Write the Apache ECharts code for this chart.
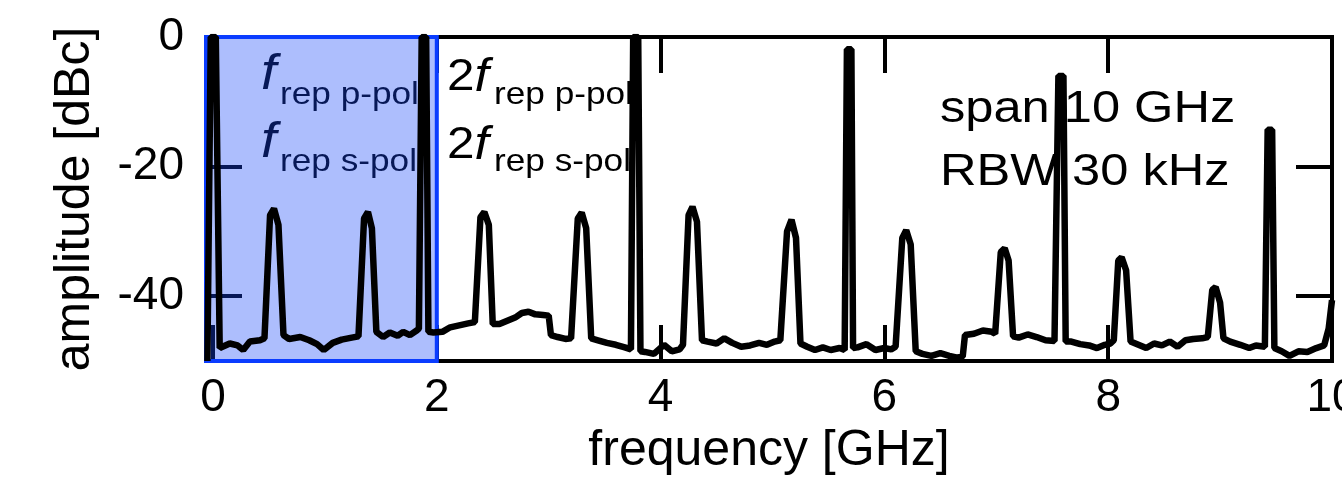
<!DOCTYPE html>
<html>
<head>
<meta charset="utf-8">
<script src="https://cdn.jsdelivr.net/npm/echarts@6/dist/echarts.min.js"></script>
<style>
html, body { margin: 0; padding: 0; background: #fff; }
#chart { width: 1342px; height: 495px; }
</style>
</head>
<body>
<div id="chart"></div>
<script>
// spectrum trace (GHz, dBc)
const freqGHz = [
  -0.05, -0.02, 0.025, 0.06, 0.15, 0.22, 0.27, 0.33, 0.42, 0.46, 0.51, 0.545, 0.585, 0.63,
  0.68, 0.78, 0.86, 0.93, 0.99, 1.07, 1.15, 1.24, 1.30, 1.35, 1.385, 1.42, 1.46,
  1.52, 1.58, 1.65, 1.70, 1.76, 1.82, 1.84, 1.865, 1.905, 1.925, 1.97,
  2.05, 2.12, 2.20, 2.28, 2.34, 2.39, 2.425, 2.465, 2.50, 2.56, 2.63, 2.70, 2.76, 2.82,
  2.88, 2.95, 3.00, 3.02, 3.08, 3.15, 3.20, 3.26, 3.295, 3.335, 3.38, 3.44, 3.52, 3.60,
  3.68, 3.735, 3.755, 3.80, 3.82, 3.86, 3.94,
  4.03, 4.10, 4.17, 4.20, 4.25, 4.285, 4.325, 4.37, 4.42, 4.50, 4.57, 4.64, 4.72, 4.80,
  4.88, 4.95, 5.02, 5.07, 5.13, 5.17, 5.21, 5.25, 5.31, 5.38, 5.45, 5.52, 5.60, 5.645,
  5.665, 5.705, 5.72, 5.76, 5.84, 5.92,
  6.00, 6.06, 6.10, 6.16, 6.195, 6.235, 6.28, 6.34, 6.42, 6.50, 6.58, 6.65, 6.70, 6.72,
  6.80, 6.88, 6.96, 6.99, 7.04, 7.075, 7.11, 7.15, 7.20, 7.28, 7.36, 7.44, 7.52, 7.535,
  7.555, 7.60, 7.62, 7.67, 7.75, 7.83, 7.90, 7.97,
  8.02, 8.05, 8.09, 8.12, 8.16, 8.20, 8.27, 8.34, 8.41, 8.48, 8.55, 8.62, 8.69, 8.76,
  8.84, 8.89, 8.93, 8.96, 9.00, 9.03, 9.09, 9.18, 9.26, 9.32, 9.40, 9.425, 9.465, 9.485,
  9.55, 9.62, 9.70, 9.78, 9.86, 9.93, 9.97, 10.0
];
const ampDBc = [
  -50, 0, 0, -48.0, -47.3, -47.6, -48.3, -47.0, -46.8, -46.5, -27.5, -26.5, -29, -46.0,
  -46.6, -46.3, -46.8, -47.4, -48.3, -47.2, -46.7, -46.4, -46.2, -28, -27, -29.5, -45.5,
  -46.3, -45.6, -46.1, -45.5, -46.0, -45.3, -45.0, 0, 0, -45.5, -45.6,
  -45.5, -44.8, -44.5, -44.2, -44.0, -27.8, -27, -29, -44.3, -44.3, -43.8, -43.3, -42.6, -42.4,
  -42.8, -42.9, -43.0, -46.0, -46.3, -46.6, -46.5, -28, -27.1, -29.5, -46.5, -46.8, -47.2, -47.5,
  -47.9, -48.2, 0, 0, -48.5, -48.6, -48.9,
  -47.5, -48.5, -48.2, -47.5, -27.5, -26.2, -28.5, -46.8, -47.0, -47.3, -46.5, -47.2, -47.8, -47.6,
  -47.2, -47.5, -47.0, -46.8, -30, -28.2, -31, -47.3, -47.8, -48.3, -47.9, -48.3, -48.0, -48.3,
  -1.9, -1.9, -48.0, -47.9, -47.4, -48.3,
  -48.0, -48.2, -47.8, -31, -29.8, -32, -48.5, -48.9, -49.2, -48.8, -49.2, -49.5, -49.3, -46.0,
  -45.8, -45.3, -45.5, -45.8, -33.2, -32.6, -34.5, -46.2, -46.4, -45.9, -46.3, -46.8, -46.9, -47,
  -6.0, -6.0, -47.0, -47.0, -47.4, -47.6, -48.0, -47.5,
  -47.3, -46.8, -34.5, -34, -36, -47.0, -47.5, -48.0, -47.3, -47.6, -47.0, -47.8, -46.8, -46.6,
  -46.5, -46.3, -39, -38.6, -41, -46.5, -47.0, -47.5, -48.0, -47.6, -47.8, -14.3, -14.3, -48.0,
  -48.5, -49.2, -48.5, -48.6, -48.0, -47.6, -45, -40.6
];

const xRange = [-0.0625, 10];
const yRange = [-50, 0];
const xTicks = [0, 2, 4, 6, 8, 10];
const yTicks = [0, -20, -40];
const highlightGHz = [xRange[0], 2];

const trace = freqGHz.map((f, i) => [f, ampDBc[i]]);
const FONT = "'Liberation Sans', Arial, sans-serif";

function sideAxis(extra, ticks) {
  return Object.assign({
    type: 'value',
    axisLine: { show: false, onZero: false },
    splitLine: { show: false },
    axisTick: { show: true, inside: true, length: 36, customValues: ticks, lineStyle: { color: '#000', width: 4 } },
    axisLabel: { show: false }
  }, extra);
}

function txt(text, x, y, size, italic, scaleX) {
  return {
    type: 'text', x: x, y: y, scaleX: scaleX || 1.1, z: 0,
    style: {
      text: text, fill: '#000', textAlign: 'left', textVerticalAlign: 'middle',
      font: (italic ? 'italic ' : '') + size + 'px ' + FONT
    }
  };
}

function twoF(y) {
  return {
    type: 'text', x: 447, y: y, scaleX: 1.1, z: 0,
    style: {
      text: '{n|2}{i|f}', textAlign: 'left', textVerticalAlign: 'middle', fill: '#000',
      rich: {
        n: { fontSize: 45, fontFamily: FONT },
        i: { fontSize: 47, fontFamily: FONT, fontStyle: 'italic' }
      }
    }
  };
}

const chart = echarts.init(document.getElementById('chart'), null, { renderer: 'canvas' });
chart.setOption({
  animation: false,
  backgroundColor: '#fff',
  grid: {
    left: 206, right: 10, top: 37, bottom: 134,
    outerBoundsMode: 'none', containLabel: false,
    show: true, borderColor: '#000', borderWidth: 4
  },
  xAxis: [
    sideAxis({
      position: 'bottom', min: xRange[0], max: xRange[1],
      axisLabel: { show: true, customValues: xTicks, margin: 14, color: '#000', fontSize: 46, fontFamily: FONT },
      name: 'frequency [GHz]', nameLocation: 'middle', nameGap: 58,
      nameTextStyle: { color: '#000', fontSize: 50, fontFamily: FONT }
    }, xTicks),
    sideAxis({ position: 'top', min: xRange[0], max: xRange[1] }, xTicks)
  ],
  yAxis: [
    sideAxis({
      position: 'left', min: yRange[0], max: yRange[1],
      axisLabel: {
        show: true, customValues: yTicks, margin: 22, color: '#000', fontSize: 46, fontFamily: FONT,
        padding: [8, 0, 0, 0]
      },
      name: 'amplitude [dBc]', nameLocation: 'middle', nameGap: 106,
      nameTextStyle: { color: '#000', fontSize: 50, fontFamily: FONT }
    }, yTicks),
    sideAxis({ position: 'right', min: yRange[0], max: yRange[1] }, yTicks)
  ],
  series: [
    {
      type: 'line',
      data: trace,
      symbol: 'none',
      z: 2,
      lineStyle: { color: '#000', width: 6.5, join: 'bevel' }
    },
    {
      type: 'line',
      data: [],
      clip: false,
      z: 10,
      silent: true,
      markArea: {
        silent: true,
        itemStyle: { color: 'rgba(20,70,250,0.35)', borderColor: '#0a3cff', borderWidth: 4 },
        data: [[{ coord: [highlightGHz[0], yRange[1]] }, { coord: [highlightGHz[1], yRange[0]] }]]
      }
    }
  ],
  graphic: [
    txt('f', 261, 75, 50, true),
    txt('rep p-pol', 280, 95, 32, false),
    txt('f', 261, 143, 50, true),
    txt('rep s-pol', 280, 162, 32, false),
    twoF(78),
    txt('rep p-pol', 494, 95, 32, false),
    twoF(146),
    txt('rep s-pol', 494, 162, 32, false),
    txt('span 10 GHz', 940, 110, 44, false, 1.15),
    txt('RBW 30 kHz', 940, 173, 44, false, 1.15)
  ]
});
</script>
</body>
</html>
